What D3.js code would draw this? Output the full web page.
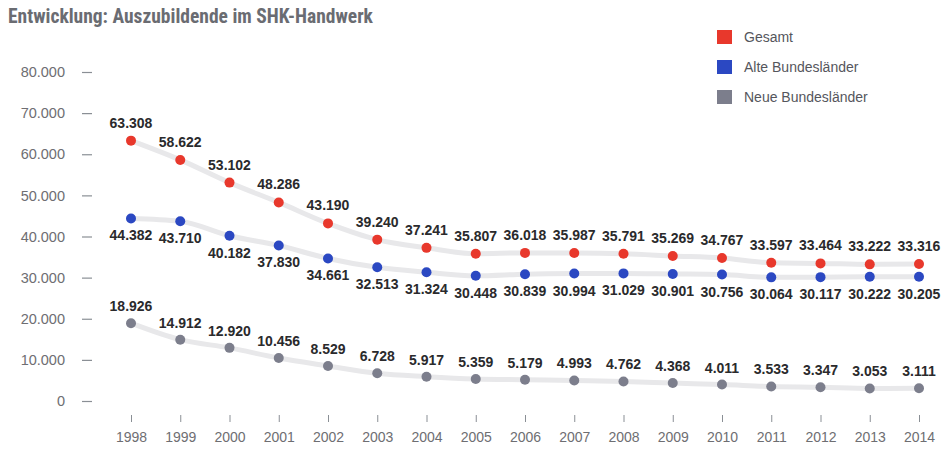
<!DOCTYPE html>
<html>
<head>
<meta charset="utf-8">
<script src="https://cdn.jsdelivr.net/npm/d3@7"></script>
<style>
  body { margin: 0; background: #fff; }
  svg { display: block; }
</style>
</head>
<body>
<svg id="chart" width="949" height="452"></svg>
<script>
const years = ['1998', '1999', '2000', '2001', '2002', '2003', '2004', '2005', '2006', '2007', '2008', '2009', '2010', '2011', '2012', '2013', '2014']
const gesamt = [63308, 58622, 53102, 48286, 43190, 39240, 37241, 35807, 36018, 35987, 35791, 35269, 34767, 33597, 33464, 33222, 33316]
const alte = [44382, 43710, 40182, 37830, 34661, 32513, 31324, 30448, 30839, 30994, 31029, 30901, 30756, 30064, 30117, 30222, 30205]
const neue = [18926, 14912, 12920, 10456, 8529, 6728, 5917, 5359, 5179, 4993, 4762, 4368, 4011, 3533, 3347, 3053, 3111]
const yTicks = [0, 10000, 20000, 30000, 40000, 50000, 60000, 70000, 80000]
const seriesNames = ['Gesamt', 'Alte Bundesländer', 'Neue Bundesländer']

const colors = ['#e8382c', '#2b48c2', '#7c7e8c']
const series = [
  { name: seriesNames[0], values: gesamt, color: colors[0], dy: -13 },
  { name: seriesNames[1], values: alte, color: colors[1], dy: 22 },
  { name: seriesNames[2], values: neue, color: colors[2], dy: -12 },
]

const svg = d3.select('#chart')
const fmt = (v) => d3.format(',')(v).replace(/,/g, '.')

const x = d3.scalePoint().domain(years).range([131, 919])
const y = d3.scaleLinear().domain([0, 80000]).range([401, 72])

// title
svg.append('text')
  .attr('x', 8).attr('y', 23)
  .attr('font-family', '"Liberation Sans Narrow", "Roboto Condensed", "Liberation Sans", sans-serif')
  .attr('font-weight', 'bold')
  .attr('font-size', 19.5)
  .attr('fill', '#6a6c72')
  .text('Entwicklung: Auszubildende im SHK-Handwerk')

// y axis
const yAxis = svg.append('g')
  .attr('transform', 'translate(92,0)')
  .call(d3.axisLeft(y).tickValues(yTicks).tickSize(10).tickPadding(17).tickFormat(fmt))
yAxis.select('.domain').remove()
yAxis.selectAll('line').attr('stroke', '#8a8f95').attr('stroke-width', 1.2)
yAxis.selectAll('text')
  .attr('font-family', '"Liberation Sans", Arial, sans-serif')
  .attr('font-size', 14.5)
  .attr('fill', '#6e6e72')

// x axis
const xAxis = svg.append('g')
  .attr('transform', 'translate(0,415)')
  .call(d3.axisBottom(x).tickSize(7).tickPadding(10))
xAxis.select('.domain').remove()
xAxis.selectAll('line').attr('stroke', '#8a8f95')
xAxis.selectAll('text')
  .attr('font-family', '"Liberation Sans", Arial, sans-serif')
  .attr('font-size', 14)
  .attr('fill', '#6e6e72')

const line = d3.line()
  .x((d, i) => x(years[i]))
  .y((d) => y(d))
  .curve(d3.curveMonotoneX)

series.forEach((s) => {
  const g = svg.append('g')
  g.append('path')
    .attr('d', line(s.values))
    .attr('fill', 'none')
    .attr('stroke', '#e8e8ea')
    .attr('stroke-width', 5)
    .attr('stroke-linecap', 'round')

  g.selectAll('circle')
    .data(s.values)
    .enter()
    .append('circle')
    .attr('cx', (d, i) => x(years[i]))
    .attr('cy', (d) => y(d))
    .attr('r', 5)
    .attr('fill', s.color)

  g.selectAll('text')
    .data(s.values)
    .enter()
    .append('text')
    .attr('x', (d, i) => x(years[i]))
    .attr('y', (d) => y(d) + s.dy)
    .attr('text-anchor', 'middle')
    .attr('font-family', '"Liberation Sans", Arial, sans-serif')
    .attr('font-weight', 'bold')
    .attr('font-size', 14)
    .attr('fill', '#2a2a2c')
    .text(fmt)
})

// legend
const legend = svg.append('g').attr('transform', 'translate(717,30)')
series.forEach((s, i) => {
  const row = legend.append('g').attr('transform', `translate(0,${i * 30})`)
  row.append('rect').attr('width', 15).attr('height', 14).attr('fill', s.color)
  row.append('text')
    .attr('x', 27).attr('y', 12)
    .attr('font-family', '"Liberation Sans", Arial, sans-serif')
    .attr('font-size', 14)
    .attr('fill', '#55565c')
    .text(s.name)
})
</script>
</body>
</html>
